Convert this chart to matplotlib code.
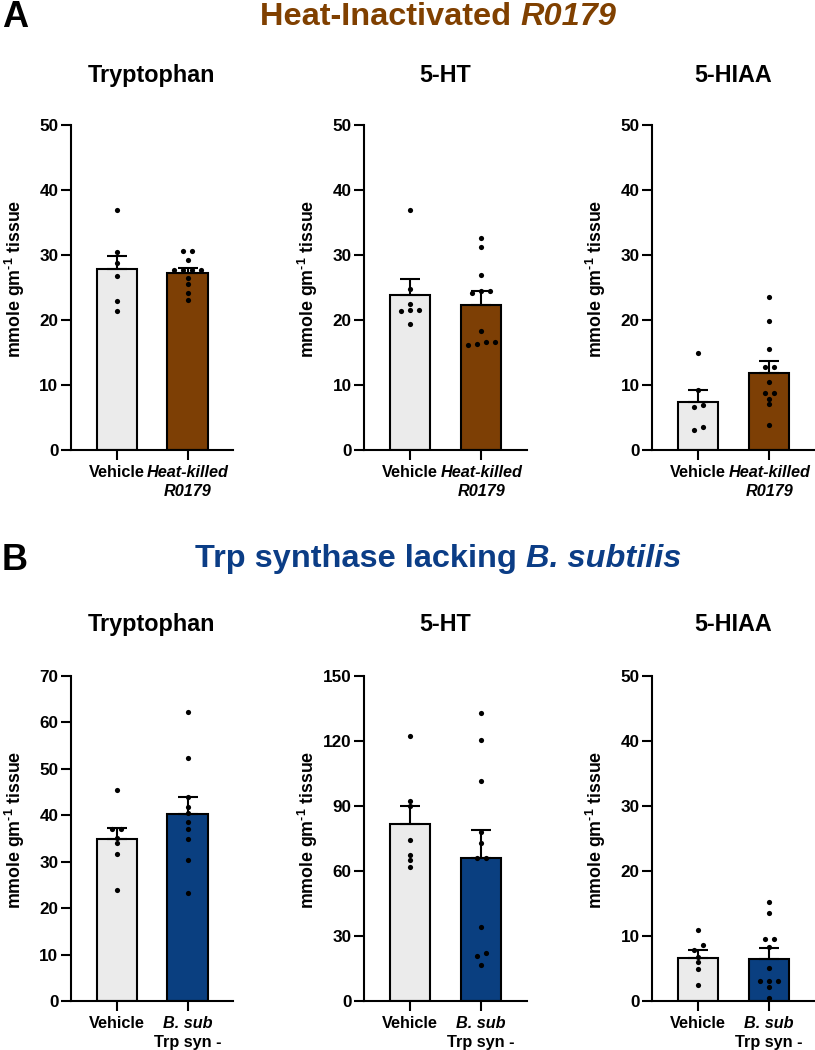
"""Heat-inactivated R0179 and Trp-synthase-lacking B. subtilis: colonic
tryptophan, 5-HT and 5-HIAA (bar = mean, error = SEM up, dots = animals)."""

import numpy as np
import matplotlib
matplotlib.use("Agg")
import matplotlib.pyplot as plt

plt.rcParams.update({
    "font.family": "Liberation Sans",
    "font.weight": "bold",
    "mathtext.fontset": "custom",
    "mathtext.rm": "Liberation Sans:bold",
    "mathtext.bf": "Liberation Sans:bold",
    "mathtext.it": "Liberation Sans:bold:italic",
    "axes.linewidth": 1.5,
})

# ---- data (mmole / gm tissue) ----
analytes = ["Tryptophan", "5-HT", "5-HIAA"]

# A: vehicle vs heat-killed R0179
a_trp_veh = [37.0, 30.5, 28.8, 26.8, 23.0, 21.4]
a_trp_hk = [30.6, 30.6, 29.2, 27.7, 27.7, 27.7, 27.7, 26.4, 25.6, 24.1, 23.1]
a_ht_veh = [36.9, 24.7, 22.4, 21.6, 21.4, 21.6, 19.4]
a_ht_hk = [32.6, 31.2, 26.9, 24.5, 24.5, 24.1, 18.3, 16.6, 16.3, 16.1, 16.6]
a_hiaa_veh = [15.0, 9.2, 6.9, 6.6, 3.6, 3.1]
a_hiaa_hk = [23.6, 19.8, 15.5, 12.8, 12.8, 10.5, 8.7, 8.7, 7.9, 7.1, 3.9]
a_means = [[27.8, 27.2], [23.9, 22.3], [7.35, 11.85]]
a_sems = [[2.1, 0.85], [2.35, 2.1], [1.9, 1.85]]

# B: vehicle vs B. subtilis Trp syn -
b_trp_veh = [45.5, 37.0, 37.0, 35.1, 34.1, 31.6, 24.0]
b_trp_bsub = [62.2, 52.3, 44.0, 41.8, 40.4, 38.6, 37.0, 35.0, 30.4, 23.2]
b_ht_veh = [122.5, 92.4, 90.1, 74.1, 67.6, 65.3, 61.9]
b_ht_bsub = [132.8, 120.6, 101.6, 78.2, 73.0, 66.2, 66.2, 34.0, 22.0, 20.7, 16.8]
b_hiaa_veh = [11.0, 8.55, 7.9, 6.8, 6.0, 4.9, 2.4]
b_hiaa_bsub = [15.2, 13.5, 9.5, 9.5, 8.35, 5.1, 3.1, 3.1, 3.1, 2.2, 0.4]
b_means = [[34.8, 40.3], [81.6, 66.1], [6.65, 6.4]]
b_sems = [[2.5, 3.7], [8.5, 12.6], [1.25, 1.8]]

a_ymax = [50, 50, 50]
a_ystep = [10, 10, 10]
b_ymax = [70, 150, 50]
b_ystep = [10, 30, 10]

VEH_COLOR = "#ebebeb"
BROWN = "#7d3f05"
BLUE = "#0a3f80"
BROWN_TXT = "#804000"
BLUE_TXT = "#0b3d86"

W, H = 815, 1050
COLS = [(71, 233), (364, 527), (652, 815)]
ROWS = [(125, 450), (676, 1001)]


def spread(vals, tol, step=0.128):
    """GraphPad-ish scatter: points closer than tol get spread sideways."""
    vals = np.asarray(vals, float)
    order = np.argsort(vals)
    offs = np.zeros(len(vals))
    groups = [[order[0]]]
    for i in order[1:]:
        if vals[i] - vals[groups[-1][-1]] < tol:
            groups[-1].append(i)
        else:
            groups.append([i])
    for g in groups:
        n = len(g)
        for k, i in enumerate(g):
            offs[i] = (k - (n - 1) / 2) * step
    return offs


def panel(ax, groups, means, sems, ymax, ystep, color):
    fills = [VEH_COLOR, color]
    for i, (vals, m, s) in enumerate(zip(groups, means, sems)):
        ax.bar(i, m, width=0.57, color=fills[i], edgecolor="black",
               linewidth=1.5, zorder=2)
        ax.errorbar(i, m, yerr=[[0], [s]], fmt="none", ecolor="black",
                    elinewidth=1.5, capsize=7.5, capthick=1.5, zorder=3)
        offs = spread(vals, 0.014 * ymax)
        ax.scatter(i + offs, vals, s=14, color="black", linewidths=0,
                   zorder=4)
    ax.set_xlim(-0.652, 1.645)
    ax.set_ylim(0, ymax)
    ax.set_yticks(np.arange(0, ymax + 1, ystep))
    ax.set_xticks([0, 1])
    ax.set_xticklabels([])
    for side in ("top", "right"):
        ax.spines[side].set_visible(False)
    ax.tick_params(axis="both", length=7, width=1.5, labelsize=12.3)
    ax.tick_params(axis="y", pad=2)
    ax.text(-56 / 162, 0.525, r"mmole gm$^{\text{-}1}$ tissue", rotation=90,
            ha="center", va="center", fontsize=12.8, transform=ax.transAxes)
    ax.annotate("Vehicle", xy=(0, 0), xycoords=("data", "axes fraction"),
                xytext=(0, -19.7), textcoords="offset points",
                ha="center", va="baseline", fontsize=11.7)


def lab(ax, text, line, italic=False):
    ax.annotate(text, xy=(1, 0), xycoords=("data", "axes fraction"),
                xytext=(0, -19.7 if line == 0 else -33.3),
                textcoords="offset points", ha="center", va="baseline",
                fontsize=11.7, style="italic" if italic else "normal")


def heading(fig, xc, y, plain, ital, color):
    """Centered heading with a plain part followed by an italic part."""
    r = fig.canvas.get_renderer()
    t1 = fig.text(0, y, plain, ha="left", va="baseline", fontsize=23.4,
                  color=color)
    t2 = fig.text(0, y, ital, ha="left", va="baseline", fontsize=23.4,
                  color=color, style="italic")
    w1 = t1.get_window_extent(r).width / W
    w2 = t2.get_window_extent(r).width / W
    x0 = xc - (w1 + w2) / 2
    t1.set_x(x0)
    t2.set_x(x0 + w1)


fig = plt.figure(figsize=(W / 100, H / 100), dpi=100)

a_groups = [(a_trp_veh, a_trp_hk), (a_ht_veh, a_ht_hk),
            (a_hiaa_veh, a_hiaa_hk)]
b_groups = [(b_trp_veh, b_trp_bsub), (b_ht_veh, b_ht_bsub),
            (b_hiaa_veh, b_hiaa_bsub)]

rows = [
    (a_groups, a_means, a_sems, a_ymax, a_ystep, BROWN, 82),
    (b_groups, b_means, b_sems, b_ymax, b_ystep, BLUE, 631),
]
for r, (groups, means, sems, ymaxs, ysteps, color, title_y) in enumerate(rows):
    y0, y1 = ROWS[r]
    for c, (x0, x1) in enumerate(COLS):
        ax = fig.add_axes([x0 / W, 1 - y1 / H, (x1 - x0) / W, (y1 - y0) / H])
        ax.patch.set_alpha(0)
        panel(ax, groups[c], means[c], sems[c], ymaxs[c], ysteps[c], color)
        if r == 0:
            lab(ax, "Heat-killed", 0, italic=True)
            lab(ax, "R0179", 1, italic=True)
        else:
            lab(ax, "B. sub", 0, italic=True)
            lab(ax, "Trp syn -", 1)
        fig.text((x0 + x1) / 2 / W, 1 - title_y / H, analytes[c],
                 ha="center", va="baseline", fontsize=16.8)

# panel letters and row headings
fig.text(2 / W, 1 - 27 / H, "A", ha="left", va="baseline", fontsize=26)
fig.text(2 / W, 1 - 570 / H, "B", ha="left", va="baseline", fontsize=26)
heading(fig, 438 / W, 1 - 25 / H, "Heat-Inactivated ", "R0179", BROWN_TXT)
heading(fig, 438 / W, 1 - 567 / H, "Trp synthase lacking ", "B. subtilis",
        BLUE_TXT)

fig.savefig("out.png", dpi=100)
